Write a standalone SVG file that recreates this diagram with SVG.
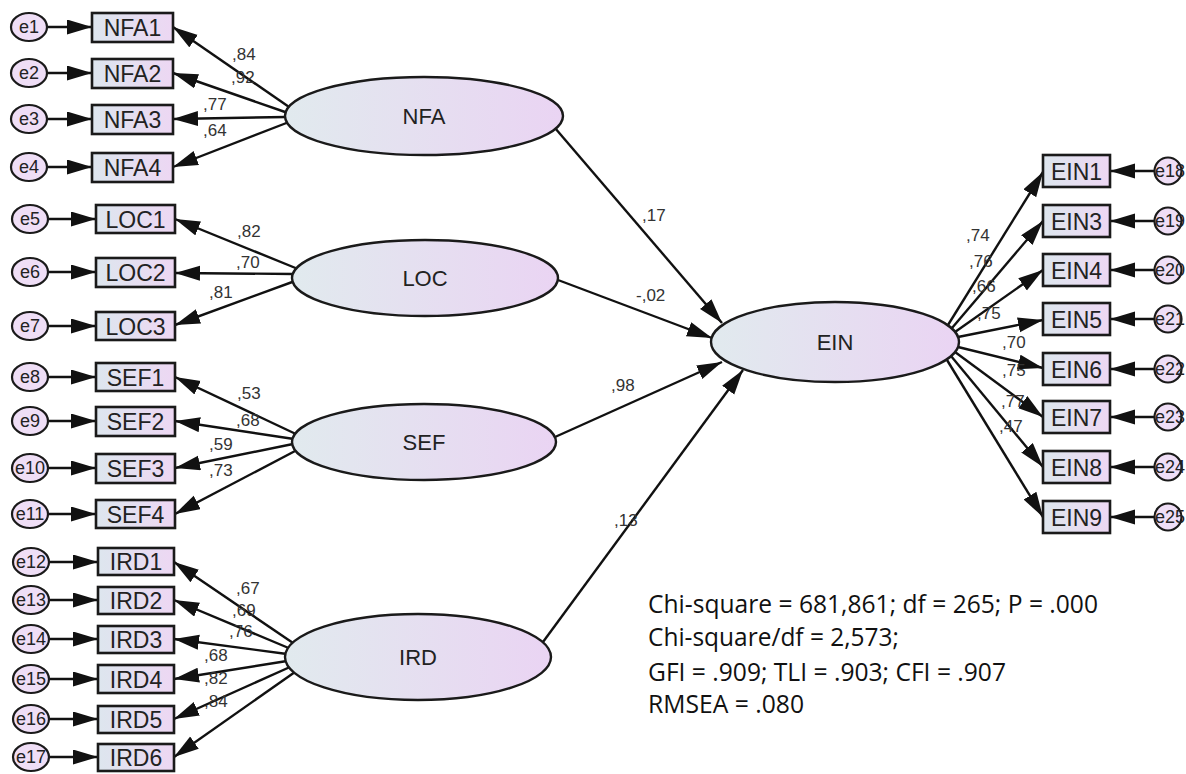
<svg xmlns="http://www.w3.org/2000/svg" width="1186" height="774" viewBox="0 0 1186 774">
  <defs>
    <linearGradient id="gBox" x1="0" y1="0" x2="1" y2="0">
      <stop offset="0" stop-color="#dde6ee"/>
      <stop offset="1" stop-color="#edd7f3"/>
    </linearGradient>
    <linearGradient id="gLat" x1="0" y1="0" x2="1" y2="0">
      <stop offset="0" stop-color="#e1eaee"/>
      <stop offset="1" stop-color="#ead4f3"/>
    </linearGradient>
    <marker id="ah" markerUnits="userSpaceOnUse" markerWidth="26" markerHeight="16" refX="25" refY="7.5" orient="auto">
      <path d="M0,0 L25,7.5 L0,15 z" fill="#111"/>
    </marker>
    <style>
      .box { fill: url(#gBox); stroke: #1a1a1a; stroke-width: 2.6; }
      .lat { fill: url(#gLat); stroke: #1a1a1a; stroke-width: 2.4; }
      .err { fill: #efdef6; stroke: #1a1a1a; stroke-width: 2.2; }
      .bt { font-family: "Liberation Sans", Arial, sans-serif; font-size: 23px; fill: #222; text-anchor: middle; }
      .lt { font-family: "Liberation Sans", Arial, sans-serif; font-size: 22px; fill: #222; text-anchor: middle; }
      .et { font-family: "Liberation Sans", Arial, sans-serif; font-size: 18px; fill: #222; text-anchor: middle; }
      .cf { font-family: "Liberation Sans", Arial, sans-serif; font-size: 17px; fill: #333; }
      .st { font-family: "Open Sans", Lato, sans-serif; font-size: 25px; fill: #111; }
      .ln { stroke: #111; stroke-width: 2.4; fill: none; marker-end: url(#ah); }
    </style>
  </defs>
  <rect width="1186" height="774" fill="#ffffff"/>

  <!-- connectors -->
  <g id="connectors">
    <!-- error terms to left indicators -->
    <line class="ln" x1="47" y1="27" x2="92" y2="27"/>
    <line class="ln" x1="47" y1="73" x2="92" y2="73"/>
    <line class="ln" x1="47" y1="119" x2="92" y2="119"/>
    <line class="ln" x1="47" y1="167" x2="92" y2="167"/>
    <line class="ln" x1="48" y1="219" x2="96" y2="219"/>
    <line class="ln" x1="48" y1="272" x2="96" y2="272"/>
    <line class="ln" x1="48" y1="326" x2="96" y2="326"/>
    <line class="ln" x1="48" y1="377" x2="96" y2="377"/>
    <line class="ln" x1="48" y1="421" x2="96" y2="421"/>
    <line class="ln" x1="48" y1="468" x2="96" y2="468"/>
    <line class="ln" x1="48" y1="514" x2="96" y2="514"/>
    <line class="ln" x1="49" y1="562" x2="98" y2="562"/>
    <line class="ln" x1="49" y1="600" x2="98" y2="600"/>
    <line class="ln" x1="49" y1="639" x2="98" y2="639"/>
    <line class="ln" x1="49" y1="679" x2="98" y2="679"/>
    <line class="ln" x1="49" y1="719" x2="98" y2="719"/>
    <line class="ln" x1="49" y1="757" x2="98" y2="757"/>
    <!-- NFA loadings -->
    <line class="ln" x1="292" y1="109" x2="173" y2="27"/>
    <line class="ln" x1="288" y1="113" x2="173" y2="73"/>
    <line class="ln" x1="286" y1="117" x2="173" y2="119"/>
    <line class="ln" x1="289" y1="122" x2="173" y2="167"/>
    <!-- LOC loadings -->
    <line class="ln" x1="298" y1="269" x2="175" y2="219"/>
    <line class="ln" x1="293" y1="274" x2="175" y2="273"/>
    <line class="ln" x1="295" y1="281" x2="175" y2="325"/>
    <!-- SEF loadings -->
    <line class="ln" x1="298" y1="435" x2="175" y2="377"/>
    <line class="ln" x1="294" y1="439" x2="175" y2="421"/>
    <line class="ln" x1="293" y1="444" x2="175" y2="468"/>
    <line class="ln" x1="297" y1="450" x2="175" y2="514"/>
    <!-- IRD loadings -->
    <line class="ln" x1="296" y1="645" x2="174" y2="562"/>
    <line class="ln" x1="291" y1="649" x2="174" y2="600"/>
    <line class="ln" x1="287" y1="654" x2="174" y2="639"/>
    <line class="ln" x1="287" y1="661" x2="174" y2="679"/>
    <line class="ln" x1="290" y1="667" x2="174" y2="719"/>
    <line class="ln" x1="295" y1="672" x2="174" y2="757"/>
    <!-- structural paths -->
    <line class="ln" x1="555" y1="128" x2="722" y2="323"/>
    <line class="ln" x1="558" y1="280" x2="712" y2="338"/>
    <line class="ln" x1="555" y1="437" x2="722" y2="362"/>
    <line class="ln" x1="543" y1="642" x2="743" y2="370"/>
    <!-- EIN loadings -->
    <line class="ln" x1="948" y1="325" x2="1043" y2="172"/>
    <line class="ln" x1="952" y1="328" x2="1043" y2="221"/>
    <line class="ln" x1="955" y1="332" x2="1043" y2="270"/>
    <line class="ln" x1="958" y1="337" x2="1043" y2="320"/>
    <line class="ln" x1="958" y1="347" x2="1043" y2="368"/>
    <line class="ln" x1="955" y1="352" x2="1043" y2="417"/>
    <line class="ln" x1="951" y1="356" x2="1043" y2="467"/>
    <line class="ln" x1="947" y1="360" x2="1043" y2="517"/>
    <!-- error terms to right indicators -->
    <line class="ln" x1="1155" y1="171" x2="1110" y2="171"/>
    <line class="ln" x1="1155" y1="221" x2="1110" y2="221"/>
    <line class="ln" x1="1155" y1="270" x2="1110" y2="270"/>
    <line class="ln" x1="1155" y1="319" x2="1110" y2="319"/>
    <line class="ln" x1="1155" y1="369" x2="1110" y2="369"/>
    <line class="ln" x1="1155" y1="417" x2="1110" y2="417"/>
    <line class="ln" x1="1155" y1="467" x2="1110" y2="467"/>
    <line class="ln" x1="1155" y1="517" x2="1110" y2="517"/>
  </g>

  <!-- coefficient labels -->
  <g id="coefficients" class="cf">
    <text x="232" y="60">,84</text>
    <text x="231" y="83">,92</text>
    <text x="203" y="110">,77</text>
    <text x="203" y="136">,64</text>
    <text x="237" y="237">,82</text>
    <text x="236" y="268">,70</text>
    <text x="209" y="298">,81</text>
    <text x="237" y="399">,53</text>
    <text x="236" y="426">,68</text>
    <text x="209" y="450">,59</text>
    <text x="209" y="476">,73</text>
    <text x="236" y="594">,67</text>
    <text x="232" y="616">,69</text>
    <text x="229" y="637">,76</text>
    <text x="204" y="661">,68</text>
    <text x="204" y="684">,82</text>
    <text x="204" y="707">,84</text>
    <text x="642" y="221">,17</text>
    <text x="636" y="301">-,02</text>
    <text x="611" y="391">,98</text>
    <text x="614" y="526">,13</text>
    <text x="966" y="241">,74</text>
    <text x="969" y="267">,76</text>
    <text x="972" y="292">,66</text>
    <text x="977" y="319">,75</text>
    <text x="1002" y="348">,70</text>
    <text x="1002" y="376">,75</text>
    <text x="1001" y="407">,77</text>
    <text x="999" y="432">,47</text>
  </g>

  <!-- latent variables -->
  <g id="NFA"><ellipse class="lat" cx="424" cy="116" rx="139" ry="39"/><text class="lt" x="424" y="124">NFA</text></g>
  <g id="LOC"><ellipse class="lat" cx="425" cy="278" rx="133" ry="38"/><text class="lt" x="425" y="286">LOC</text></g>
  <g id="SEF"><ellipse class="lat" cx="424" cy="442" rx="132" ry="38"/><text class="lt" x="424" y="450">SEF</text></g>
  <g id="IRD"><ellipse class="lat" cx="418" cy="657" rx="133" ry="43"/><text class="lt" x="418" y="665">IRD</text></g>
  <g id="EIN"><ellipse class="lat" cx="835" cy="342" rx="124" ry="40"/><text class="lt" x="835" y="350">EIN</text></g>

  <!-- observed indicators, left -->
  <g id="NFA1"><rect class="box" x="92" y="13" width="81" height="29"/><text class="bt" x="132.5" y="35.5">NFA1</text></g>
  <g id="NFA2"><rect class="box" x="92" y="59" width="81" height="29"/><text class="bt" x="132.5" y="81.5">NFA2</text></g>
  <g id="NFA3"><rect class="box" x="92" y="105" width="81" height="29"/><text class="bt" x="132.5" y="127.5">NFA3</text></g>
  <g id="NFA4"><rect class="box" x="92" y="153" width="81" height="29"/><text class="bt" x="132.5" y="175.5">NFA4</text></g>
  <g id="LOC1"><rect class="box" x="96" y="205" width="79" height="28"/><text class="bt" x="135.5" y="227.5">LOC1</text></g>
  <g id="LOC2"><rect class="box" x="96" y="258" width="79" height="29"/><text class="bt" x="135.5" y="280.5">LOC2</text></g>
  <g id="LOC3"><rect class="box" x="96" y="312" width="79" height="28"/><text class="bt" x="135.5" y="334.5">LOC3</text></g>
  <g id="SEF1"><rect class="box" x="96" y="363" width="79" height="28"/><text class="bt" x="135.5" y="385.5">SEF1</text></g>
  <g id="SEF2"><rect class="box" x="96" y="407" width="79" height="29"/><text class="bt" x="135.5" y="429.5">SEF2</text></g>
  <g id="SEF3"><rect class="box" x="96" y="454" width="79" height="29"/><text class="bt" x="135.5" y="476.5">SEF3</text></g>
  <g id="SEF4"><rect class="box" x="96" y="500" width="79" height="28"/><text class="bt" x="135.5" y="522.5">SEF4</text></g>
  <g id="IRD1"><rect class="box" x="98" y="548" width="76" height="27"/><text class="bt" x="136" y="570">IRD1</text></g>
  <g id="IRD2"><rect class="box" x="98" y="587" width="76" height="27"/><text class="bt" x="136" y="609">IRD2</text></g>
  <g id="IRD3"><rect class="box" x="98" y="626" width="76" height="27"/><text class="bt" x="136" y="648">IRD3</text></g>
  <g id="IRD4"><rect class="box" x="98" y="665" width="76" height="28"/><text class="bt" x="136" y="687.5">IRD4</text></g>
  <g id="IRD5"><rect class="box" x="98" y="706" width="76" height="27"/><text class="bt" x="136" y="728">IRD5</text></g>
  <g id="IRD6"><rect class="box" x="98" y="744" width="76" height="27"/><text class="bt" x="136" y="766">IRD6</text></g>

  <!-- observed indicators, right -->
  <g id="EIN1"><rect class="box" x="1043" y="155" width="67" height="32"/><text class="bt" x="1076.5" y="179.5">EIN1</text></g>
  <g id="EIN3"><rect class="box" x="1043" y="205" width="67" height="32"/><text class="bt" x="1076.5" y="229.5">EIN3</text></g>
  <g id="EIN4"><rect class="box" x="1043" y="254" width="67" height="32"/><text class="bt" x="1076.5" y="278.5">EIN4</text></g>
  <g id="EIN5"><rect class="box" x="1043" y="303" width="67" height="32"/><text class="bt" x="1076.5" y="327.5">EIN5</text></g>
  <g id="EIN6"><rect class="box" x="1043" y="353" width="67" height="32"/><text class="bt" x="1076.5" y="377.5">EIN6</text></g>
  <g id="EIN7"><rect class="box" x="1043" y="401" width="67" height="32"/><text class="bt" x="1076.5" y="425.5">EIN7</text></g>
  <g id="EIN8"><rect class="box" x="1043" y="451" width="67" height="32"/><text class="bt" x="1076.5" y="475.5">EIN8</text></g>
  <g id="EIN9"><rect class="box" x="1043" y="501" width="67" height="32"/><text class="bt" x="1076.5" y="525.5">EIN9</text></g>

  <!-- error terms, left -->
  <g id="e1"><ellipse class="err" cx="29" cy="27" rx="18" ry="14"/><text class="et" x="29" y="33">e1</text></g>
  <g id="e2"><ellipse class="err" cx="29" cy="73" rx="18" ry="14"/><text class="et" x="29" y="79">e2</text></g>
  <g id="e3"><ellipse class="err" cx="29" cy="119" rx="18" ry="14"/><text class="et" x="29" y="125">e3</text></g>
  <g id="e4"><ellipse class="err" cx="29" cy="167" rx="18" ry="14"/><text class="et" x="29" y="173">e4</text></g>
  <g id="e5"><ellipse class="err" cx="30" cy="219" rx="18" ry="14"/><text class="et" x="30" y="225">e5</text></g>
  <g id="e6"><ellipse class="err" cx="30" cy="272" rx="18" ry="14"/><text class="et" x="30" y="278">e6</text></g>
  <g id="e7"><ellipse class="err" cx="30" cy="326" rx="18" ry="14"/><text class="et" x="30" y="332">e7</text></g>
  <g id="e8"><ellipse class="err" cx="30" cy="377" rx="18" ry="14"/><text class="et" x="30" y="383">e8</text></g>
  <g id="e9"><ellipse class="err" cx="30" cy="421" rx="18" ry="14"/><text class="et" x="30" y="427">e9</text></g>
  <g id="e10"><ellipse class="err" cx="30" cy="468" rx="18" ry="14"/><text class="et" x="30" y="474">e10</text></g>
  <g id="e11"><ellipse class="err" cx="30" cy="514" rx="18" ry="14"/><text class="et" x="30" y="520">e11</text></g>
  <g id="e12"><ellipse class="err" cx="31" cy="562" rx="18" ry="14"/><text class="et" x="31" y="568">e12</text></g>
  <g id="e13"><ellipse class="err" cx="31" cy="600" rx="18" ry="14"/><text class="et" x="31" y="606">e13</text></g>
  <g id="e14"><ellipse class="err" cx="31" cy="639" rx="18" ry="14"/><text class="et" x="31" y="645">e14</text></g>
  <g id="e15"><ellipse class="err" cx="31" cy="679" rx="18" ry="14"/><text class="et" x="31" y="685">e15</text></g>
  <g id="e16"><ellipse class="err" cx="31" cy="719" rx="18" ry="14"/><text class="et" x="31" y="725">e16</text></g>
  <g id="e17"><ellipse class="err" cx="31" cy="757" rx="18" ry="14"/><text class="et" x="31" y="763">e17</text></g>

  <!-- error terms, right -->
  <g id="e18"><circle class="err" cx="1168" cy="171" r="13.5"/><text class="et" x="1170" y="177">e18</text></g>
  <g id="e19"><circle class="err" cx="1168" cy="221" r="13.5"/><text class="et" x="1170" y="227">e19</text></g>
  <g id="e20"><circle class="err" cx="1168" cy="270" r="13.5"/><text class="et" x="1170" y="276">e20</text></g>
  <g id="e21"><circle class="err" cx="1168" cy="319" r="13.5"/><text class="et" x="1170" y="325">e21</text></g>
  <g id="e22"><circle class="err" cx="1168" cy="369" r="13.5"/><text class="et" x="1170" y="375">e22</text></g>
  <g id="e23"><circle class="err" cx="1168" cy="417" r="13.5"/><text class="et" x="1170" y="423">e23</text></g>
  <g id="e24"><circle class="err" cx="1168" cy="467" r="13.5"/><text class="et" x="1170" y="473">e24</text></g>
  <g id="e25"><circle class="err" cx="1168" cy="517" r="13.5"/><text class="et" x="1170" y="523">e25</text></g>

  <!-- fit statistics -->
  <g id="fit" class="st">
    <text x="648" y="613" textLength="450" lengthAdjust="spacingAndGlyphs">Chi-square = 681,861; df = 265; P = .000</text>
    <text x="648" y="646" textLength="251" lengthAdjust="spacingAndGlyphs">Chi-square/df = 2,573;</text>
    <text x="648" y="681" textLength="358" lengthAdjust="spacingAndGlyphs">GFI = .909; TLI = .903; CFI = .907</text>
    <text x="648" y="713" textLength="156" lengthAdjust="spacingAndGlyphs">RMSEA = .080</text>
  </g>
</svg>
